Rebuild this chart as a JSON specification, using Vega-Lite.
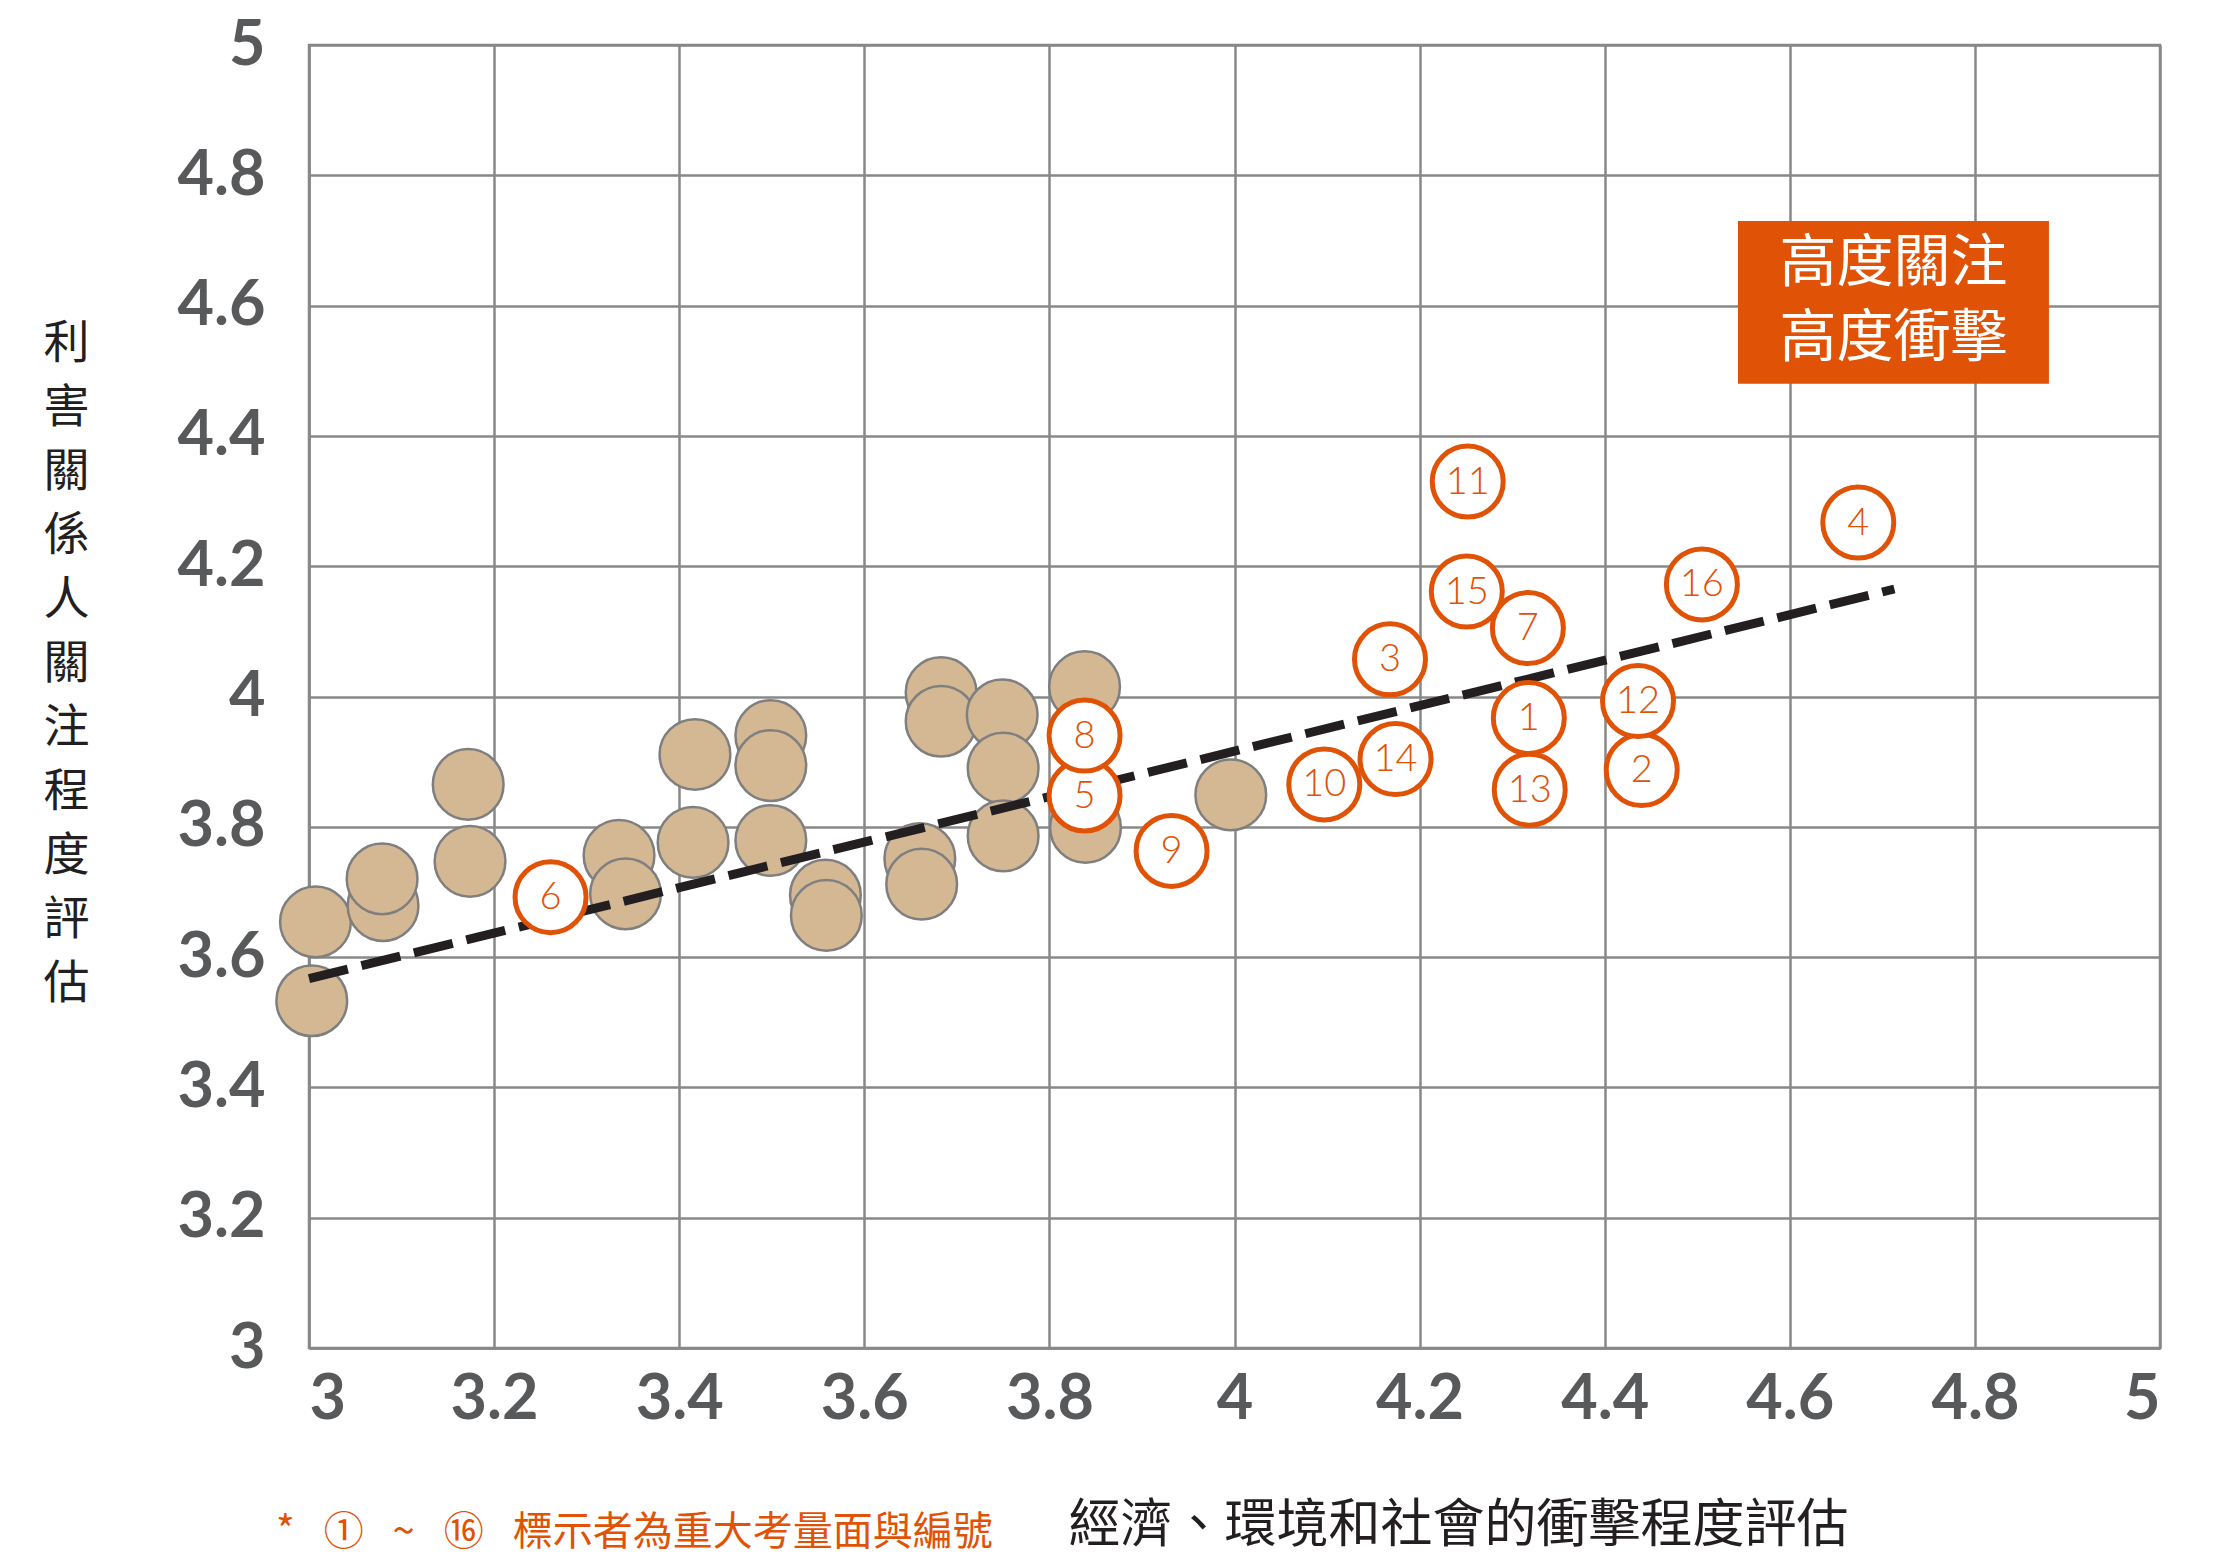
{
  "$schema": "https://vega.github.io/schema/vega-lite/v6.json",
  "width": 1851,
  "height": 1303,
  "autosize": {"type": "none"},
  "padding": {"left": 309, "top": 45, "right": 54, "bottom": 208},
  "background": "white",
  "config": {
    "view": {"stroke": "#888888", "strokeWidth": 2.5},
    "font": "Noto Sans CJK TC"
  },
  "title": {
    "text": "* \u2002①\u2002 ~ \u2002⑯\u2002 標示者為重大考量面與編號",
    "orient": "bottom",
    "anchor": "start",
    "color": "#E05206",
    "font": "Noto Sans CJK TC",
    "fontSize": 40,
    "fontWeight": "normal",
    "dx": 233,
    "dy": -42
  },
  "datasets": {
    "gray": [
      {"x": 3.003, "y": 3.533}, {"x": 3.007, "y": 3.654}, {"x": 3.080, "y": 3.679}, {"x": 3.079, "y": 3.720},
      {"x": 3.172, "y": 3.865}, {"x": 3.174, "y": 3.747}, {"x": 3.335, "y": 3.756}, {"x": 3.342, "y": 3.697},
      {"x": 3.417, "y": 3.911}, {"x": 3.415, "y": 3.776}, {"x": 3.499, "y": 3.940}, {"x": 3.499, "y": 3.894},
      {"x": 3.499, "y": 3.779}, {"x": 3.558, "y": 3.695}, {"x": 3.559, "y": 3.664}, {"x": 3.660, "y": 3.751},
      {"x": 3.662, "y": 3.712}, {"x": 3.683, "y": 4.006}, {"x": 3.683, "y": 3.962}, {"x": 3.749, "y": 3.972},
      {"x": 3.750, "y": 3.890}, {"x": 3.750, "y": 3.786}, {"x": 3.838, "y": 4.015}, {"x": 3.839, "y": 3.799},
      {"x": 3.996, "y": 3.849}
    ],
    "orange": [
      {"n": "1", "x": 4.318, "y": 3.967}, {"n": "2", "x": 4.440, "y": 3.887}, {"n": "3", "x": 4.168, "y": 4.057},
      {"n": "4", "x": 4.674, "y": 4.267}, {"n": "5", "x": 3.838, "y": 3.848}, {"n": "6", "x": 3.261, "y": 3.692},
      {"n": "7", "x": 4.317, "y": 4.105}, {"n": "8", "x": 3.838, "y": 3.940}, {"n": "9", "x": 3.932, "y": 3.763},
      {"n": "10", "x": 4.097, "y": 3.865}, {"n": "11", "x": 4.252, "y": 4.330}, {"n": "12", "x": 4.436, "y": 3.993},
      {"n": "13", "x": 4.319, "y": 3.857}, {"n": "14", "x": 4.174, "y": 3.904}, {"n": "15", "x": 4.251, "y": 4.161},
      {"n": "16", "x": 4.505, "y": 4.172}
    ],
    "trend": [{"x": 3.0, "y": 3.567}, {"x": 4.713, "y": 4.165}],
    "box": [{"x": 4.544, "x2": 4.880, "y": 4.48, "y2": 4.73, "cx": 4.712, "cy": 4.605, "t": "高度關注\n高度衝擊"}]
  },
  "encoding": {
    "x": {
      "field": "x", "type": "quantitative",
      "scale": {"domain": [3, 5], "nice": false, "zero": false},
      "axis": {
        "values": [3, 3.2, 3.4, 3.6, 3.8, 4, 4.2, 4.4, 4.6, 4.8, 5],
        "format": "~g",
        "grid": true, "gridColor": "#888888", "gridWidth": 2.5, "gridOpacity": 1,
        "domainColor": "#888888", "domainWidth": 2.5,
        "ticks": false,
        "labelFont": "Lato", "labelFontWeight": "bold", "labelFontSize": 63, "labelColor": "#58595B",
        "labelPadding": 20, "labelFlush": true,
        "title": "經濟、環境和社會的衝擊程度評估",
        "titleFont": "Noto Sans CJK TC", "titleFontSize": 52, "titleFontWeight": "normal", "titleColor": "#231F20",
        "titleX": 1149, "titleY": 177, "titleBaseline": "middle", "titleAlign": "center"
      }
    },
    "y": {
      "field": "y", "type": "quantitative",
      "scale": {"domain": [3, 5], "nice": false, "zero": false},
      "axis": {
        "values": [3, 3.2, 3.4, 3.6, 3.8, 4, 4.2, 4.4, 4.6, 4.8, 5],
        "format": "~g",
        "grid": true, "gridColor": "#888888", "gridWidth": 2.5, "gridOpacity": 1,
        "domainColor": "#888888", "domainWidth": 2.5,
        "ticks": false,
        "labelFont": "Lato", "labelFontWeight": "bold", "labelFontSize": 63, "labelColor": "#58595B",
        "labelPadding": 44,
        "title": ["利", "害", "關", "係", "人", "關", "注", "程", "度", "評", "估"],
        "titleFont": "Noto Sans CJK TC", "titleFontSize": 46, "titleFontWeight": "normal", "titleColor": "#231F20",
        "titleAngle": 0, "titleLineHeight": 64,
        "titleX": -243, "titleY": 298, "titleBaseline": "middle", "titleAlign": "center"
      }
    }
  },
  "layer": [
    {
      "data": {"name": "box"},
      "mark": {"type": "rect", "color": "#E05206"},
      "encoding": {"x2": {"field": "x2"}, "y2": {"field": "y2"}}
    },
    {
      "data": {"name": "gray"},
      "mark": {"type": "point", "shape": "circle", "filled": true, "size": 5000, "fill": "#D4B894", "stroke": "#7F7F7F", "strokeWidth": 2.5, "opacity": 1}
    },
    {
      "data": {"name": "trend"},
      "mark": {"type": "line", "color": "#231F20", "strokeWidth": 9, "strokeDash": [40, 14]}
    },
    {
      "data": {"name": "orange"},
      "mark": {"type": "point", "shape": "circle", "filled": true, "size": 5041, "fill": "white", "stroke": "#E05206", "strokeWidth": 5, "opacity": 1}
    },
    {
      "data": {"name": "orange"},
      "mark": {"type": "text", "font": "Lato", "fontWeight": 300, "fontSize": 38, "color": "#E05206", "baseline": "middle", "align": "center", "dy": 1},
      "encoding": {"text": {"field": "n"}}
    },
    {
      "data": {"name": "box"},
      "mark": {"type": "text", "font": "Noto Sans CJK TC", "fontSize": 57, "color": "white", "baseline": "middle", "align": "center", "lineBreak": "\n", "lineHeight": 75, "dy": -38},
      "encoding": {
        "x": {"field": "cx", "type": "quantitative"},
        "y": {"field": "cy", "type": "quantitative"},
        "text": {"field": "t"}
      }
    }
  ]
}
